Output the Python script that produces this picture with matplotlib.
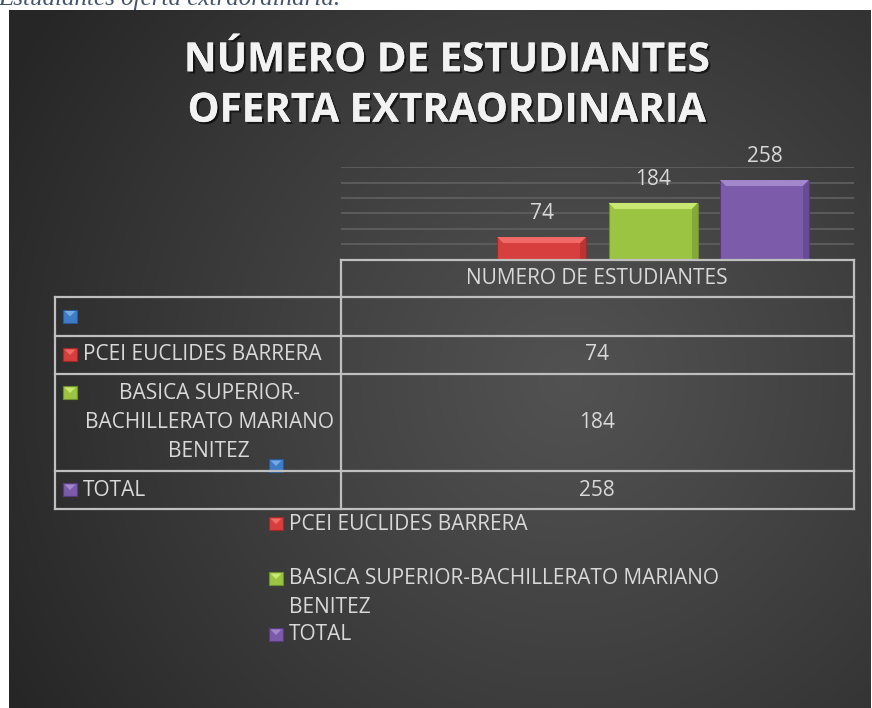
import numpy as np
import matplotlib
matplotlib.use("Agg")
import matplotlib.pyplot as plt
from matplotlib.patches import Rectangle, Polygon
import matplotlib.patheffects as pe

# data
category = "NUMERO DE ESTUDIANTES"
series = ["", "PCEI EUCLIDES BARRERA", "BASICA SUPERIOR-BACHILLERATO MARIANO BENITEZ", "TOTAL"]
table_labels = ["", "PCEI EUCLIDES BARRERA", "BASICA SUPERIOR-\nBACHILLERATO MARIANO\nBENITEZ", "TOTAL"]
legend_labels = ["PCEI EUCLIDES BARRERA", "BASICA SUPERIOR-BACHILLERATO MARIANO\nBENITEZ", "TOTAL"]
values = [np.nan, 74, 184, 258]
yticks = [0, 50, 100, 150, 200, 250, 300]

face = ["#3F7CC6", "#D63F3E", "#9CC443", "#7C5BAA"]
light = ["#74A8E6", "#F26A68", "#C9E872", "#A287CC"]
dark = ["#2A5A96", "#9E2A2A", "#6F8E2C", "#553C7C"]

FONT = "Open Sans"
TXT = "#D9D9D9"
FS = 15
W, H = 872, 708

fig = plt.figure(figsize=(W / 100, H / 100), dpi=100)
fig.patch.set_facecolor("white")

# radial gradient background of the chart area
bg = fig.add_axes([9 / W, 0, 862 / W, 698 / H])
yy, xx = np.mgrid[0:698, 0:862]
r = np.hypot(xx - 560, yy - 370) / 640
g = 0.32 - (0.32 - 0.15) * np.clip(r, 0, 1) ** 1.1
bg.imshow(np.dstack([g, g, g]), aspect="auto", interpolation="bilinear")
bg.axis("off")

# bar chart
ax = fig.add_axes([341 / W, (H - 260) / H, 513 / W, 93 / H])
ax.patch.set_alpha(0)
ax.set_xlim(-0.5, 0.5)
ax.set_ylim(0, 300)
ax.set_yticks(yticks[1:])
ax.grid(axis="y", color="#5E5E5E", lw=1.3)
ax.set_axisbelow(True)
ax.tick_params(left=False, bottom=False, labelleft=False, labelbottom=False)
for s in ax.spines.values():
    s.set_visible(False)

pitch, bw = 0.217, 0.1735
dx, dy = 6 / 513, 6 * 300 / 93
for i, v in enumerate(values):
    if np.isnan(v):
        continue
    x = (i - 1.5) * pitch
    bar = ax.bar(x, v, width=bw, color=face[i], edgecolor=dark[i], lw=0.8, zorder=3)[0]
    x0, x1, h = bar.get_x(), bar.get_x() + bar.get_width(), bar.get_height()
    ax.add_patch(Polygon([(x0, h), (x1, h), (x1 - dx, h - dy), (x0 + dx, h - dy)],
                         closed=True, fc=light[i], ec="none", zorder=4))
    ax.add_patch(Polygon([(x1, h), (x1, 0), (x1 - dx, 0), (x1 - dx, h - dy)],
                         closed=True, fc=dark[i], ec="none", alpha=0.5, zorder=4))
    ax.annotate(f"{int(v)}", (x, v), xytext=(0, 17), textcoords="offset points",
                ha="center", va="center", fontsize=FS, color=TXT, family=FONT,
                annotation_clip=False)

# overlay in pixel space for title, table and legend
ov = fig.add_axes([0, 0, 1, 1])
ov.set_xlim(0, W)
ov.set_ylim(H, 0)
ov.axis("off")
ov.patch.set_alpha(0)

ov.text(-2, 5, "Estudiantes oferta extraordinaria.", family="Liberation Serif",
        style="italic", fontsize=18, color="#44546A", va="baseline", ha="left")

title = ov.text(447, 86, "NÚMERO DE ESTUDIANTES\nOFERTA EXTRAORDINARIA", ha="center",
                va="center", fontsize=29, fontweight="bold", family=FONT,
                color="#F2F2F2", linespacing=1.38)
title.set_path_effects([pe.withSimplePatchShadow(offset=(1.5, -1.5), shadow_rgbFace="black",
                                                 alpha=0.6), pe.Normal()])

# data table
line = dict(color="#BFBFBF", lw=1.6)
rows = [297, 336, 374, 471, 509]
ov.plot([341, 854], [260, 260], **line)
for y in rows:
    ov.plot([55, 854], [y, y], **line)
ov.plot([55, 55], [297, 509], **line)
ov.plot([341, 341], [260, 509], **line)
ov.plot([854, 854], [260, 509], **line)
ov.text(597, 279, category, ha="center", va="center", fontsize=FS, color=TXT, family=FONT)


def key(x, y, i):
    ov.add_patch(Rectangle((x, y), 14, 13, fc=face[i], ec=dark[i], lw=0.8))
    ov.add_patch(Polygon([(x + 1.5, y + 1.5), (x + 12.5, y + 1.5), (x + 7, y + 7)],
                         closed=True, fc=light[i], ec="none"))


for i in range(4):
    top, bot = rows[i], rows[i + 1]
    cy = (top + bot) / 2
    if i == 2:
        key(63, top + 12, i)
        ov.text(209, cy, table_labels[i], ha="center", va="center", fontsize=FS,
                color=TXT, family=FONT, linespacing=1.53)
    else:
        key(63, cy - 7, i)
        ov.text(83, cy, table_labels[i], ha="left", va="center", fontsize=FS,
                color=TXT, family=FONT)
    if not np.isnan(values[i]):
        ov.text(597, cy, f"{int(values[i])}", ha="center", va="center", fontsize=FS,
                color=TXT, family=FONT)
key(269, 459, 0)

# legend
leg_y = [524, 593, 635]
key_y = [517, 572, 628]
for j, lab in enumerate(legend_labels):
    key(269, key_y[j], j + 1)
    ov.text(289, leg_y[j], lab, ha="left", va="center", fontsize=FS, color=TXT,
            family=FONT, linespacing=1.53)

fig.savefig("out.png", dpi=100)
